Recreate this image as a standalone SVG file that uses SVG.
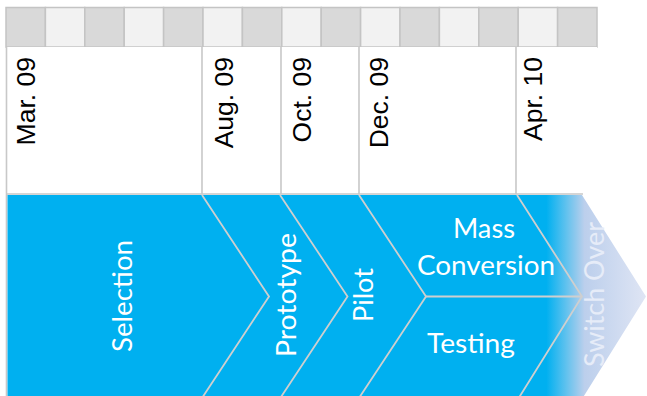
<svg xmlns="http://www.w3.org/2000/svg" width="647" height="396" viewBox="0 0 647 396">
  <style>
    .cellD { fill: #d9d9d9; stroke: #c4c4c4; stroke-width: 1.5; }
    .cellL { fill: #f2f2f2; stroke: #c4c4c4; stroke-width: 1.5; }
    .grid { stroke: #c8c8c8; stroke-width: 1.6; fill: none; }
    .date { font-family: "Liberation Sans", Arial, sans-serif; font-size: 26.5px; fill: #000; text-anchor: end; }
    .phase { fill: url(#phaseFill); }
    .sep { stroke: #cfcfcf; stroke-width: 1.8; fill: none; }
    .lbl { font-family: Lato, "Open Sans", sans-serif; font-size: 26px; fill: #ffffff; text-anchor: middle; }
    .lblSO { font-family: Lato, "Open Sans", sans-serif; font-size: 26px; fill: #e6ecf8; text-anchor: middle; }
  </style>
  <defs>
    <linearGradient id="phaseFill" gradientUnits="userSpaceOnUse" x1="540" y1="0" x2="646" y2="0">
      <stop offset="0" stop-color="#00b0f0"/>
      <stop offset="0.06" stop-color="#00b0f0"/>
      <stop offset="0.25" stop-color="#62c2ee"/>
      <stop offset="0.42" stop-color="#bccfec"/>
      <stop offset="1" stop-color="#dfe5f4"/>
    </linearGradient>
  </defs>

  <g id="timeline-header">
    <rect class="cellD" x="6" y="7.5" width="39.4" height="39.5"/>
    <rect class="cellL" x="45.4" y="7.5" width="39.4" height="39.5"/>
    <rect class="cellD" x="84.8" y="7.5" width="39.4" height="39.5"/>
    <rect class="cellL" x="124.2" y="7.5" width="39.4" height="39.5"/>
    <rect class="cellD" x="163.6" y="7.5" width="39.4" height="39.5"/>
    <rect class="cellL" x="203" y="7.5" width="39.4" height="39.5"/>
    <rect class="cellD" x="242.4" y="7.5" width="39.4" height="39.5"/>
    <rect class="cellL" x="281.8" y="7.5" width="39.4" height="39.5"/>
    <rect class="cellD" x="321.2" y="7.5" width="39.4" height="39.5"/>
    <rect class="cellL" x="360.6" y="7.5" width="39.4" height="39.5"/>
    <rect class="cellD" x="400" y="7.5" width="39.4" height="39.5"/>
    <rect class="cellL" x="439.4" y="7.5" width="39.4" height="39.5"/>
    <rect class="cellD" x="478.8" y="7.5" width="39.4" height="39.5"/>
    <rect class="cellL" x="518.2" y="7.5" width="39.4" height="39.5"/>
    <rect class="cellD" x="557.6" y="7.5" width="39.4" height="39.5"/>
  </g>

  <g id="date-grid">
    <rect x="6" y="47" width="591" height="147" fill="#ffffff"/>
    <path class="grid" d="M6.5 47 V396 M202 47 V194 M281 47 V194 M359 47 V194 M516 47 V194 M6 194 H583"/>
  </g>

  <g id="date-mar09"><text class="date" transform="translate(35,57) rotate(-90)">Mar. 09</text></g>
  <g id="date-aug09"><text class="date" transform="translate(233,57) rotate(-90)">Aug. 09</text></g>
  <g id="date-oct09"><text class="date" transform="translate(311,57) rotate(-90)">Oct. 09</text></g>
  <g id="date-dec09"><text class="date" transform="translate(388,57) rotate(-90)">Dec. 09</text></g>
  <g id="date-apr10"><text class="date" transform="translate(542,57) rotate(-90)">Apr. 10</text></g>

  <g id="phase-selection">
    <polygon class="phase" points="7.5,195 202,195 269,296.5 200.7,400 7.5,400"/>
    <text class="lbl" transform="translate(132,296) rotate(-90)" textLength="112" lengthAdjust="spacingAndGlyphs">Selection</text>
  </g>
  <g id="phase-prototype">
    <polygon class="phase" points="202,195 280,195 347.5,296.5 279,400 200.7,400 269,296.5"/>
    <text class="lbl" transform="translate(296,295) rotate(-90)" textLength="124" lengthAdjust="spacingAndGlyphs">Prototype</text>
  </g>
  <g id="phase-pilot">
    <polygon class="phase" points="280,195 359,195 426,296.5 357.7,400 279,400 347.5,296.5"/>
    <text class="lbl" transform="translate(373,295) rotate(-90)" textLength="54" lengthAdjust="spacingAndGlyphs">Pilot</text>
  </g>
  <g id="phase-mass-conversion">
    <polygon class="phase" points="359,195 517,195 582,296.5 426,296.5"/>
    <text class="lbl" x="484" y="238" textLength="62" lengthAdjust="spacingAndGlyphs">Mass</text>
    <text class="lbl" x="486" y="275" textLength="138" lengthAdjust="spacingAndGlyphs">Conversion</text>
  </g>
  <g id="phase-testing">
    <polygon class="phase" points="426,296.5 582,296.5 517.5,400 357.7,400"/>
    <text class="lbl" x="471" y="353" textLength="88" lengthAdjust="spacingAndGlyphs">Testing</text>
  </g>
  <g id="phase-switch-over">
    <polygon class="phase" points="517,195 582,195 646,296.5 581.4,400 517.5,400 582,296.5"/>
    <text class="lblSO" transform="translate(604,294.5) rotate(-90)" textLength="145" lengthAdjust="spacingAndGlyphs">Switch Over</text>
  </g>

  <g id="connectors">
    <polyline class="sep" points="202,195 269,296.5 200.7,400"/>
    <polyline class="sep" points="280,195 347.5,296.5 279,400"/>
    <polyline class="sep" points="359,195 426,296.5 357.7,400"/>
    <polyline class="sep" points="426,296.5 582,296.5"/>
    <polyline class="sep" points="517,195 582,296.5 517.5,400"/>
  </g>
</svg>
